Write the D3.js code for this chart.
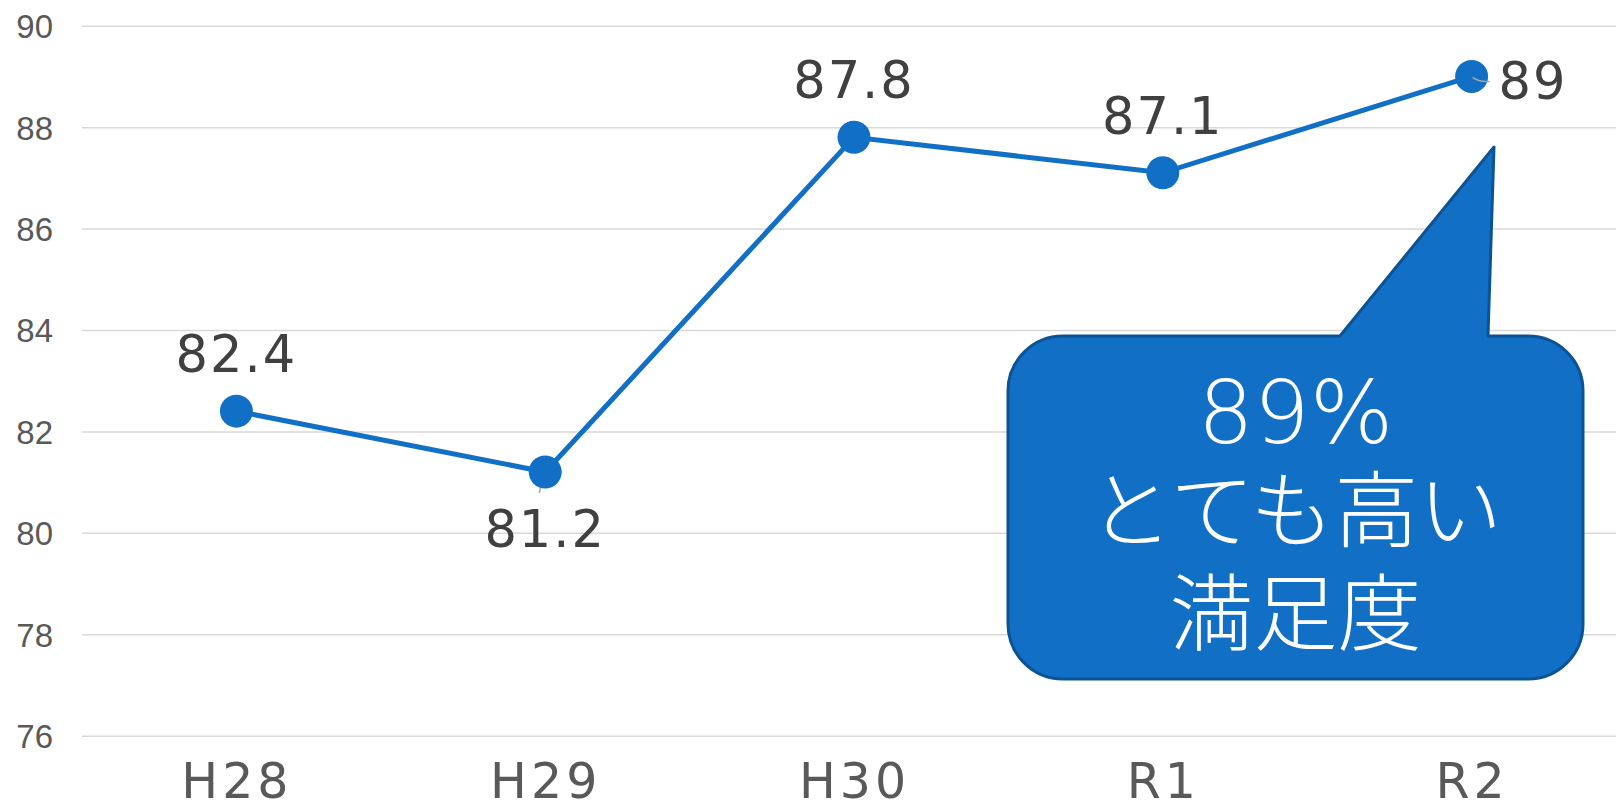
<!DOCTYPE html>
<html>
<head>
<meta charset="utf-8">
<script src="https://cdn.jsdelivr.net/npm/d3@7"></script>
<style>
  body { margin: 0; background: #fff; }
  svg { display: block; }
</style>
</head>
<body>
<script>
const categories = ["H28", "H29", "H30", "R1", "R2"]
const values = [82.4, 81.2, 87.8, 87.1, 89]
const yTicks = [76, 78, 80, 82, 84, 86, 88, 90]
// where each data label sits relative to its point
const labelPlace = ["above", "below", "above", "above", "right"]
const calloutLines = ["89%", "とても高い", "満足度"]

const w = 1616
const h = 810
const blue = "#1170c6"

const svg = d3.select("body")
              .append("svg")
              .attr("width", w)
              .attr("height", h)

const xScale = d3.scalePoint()
                 .domain(categories)
                 .range([82, 1626])
                 .padding(0.5)
const yScale = d3.scaleLinear()
                 .domain([76, 90])
                 .range([735.7, 25.7])

// y axis + gridlines
const yAxis = d3.axisLeft(yScale)
                .tickValues(yTicks)
                .tickSize(-(w - 82))
                .tickPadding(29)
const gy = svg.append("g")
              .attr("transform", "translate(82, 0)")
              .call(yAxis)
gy.select(".domain").remove()
gy.selectAll(".tick line")
  .attr("stroke", "#d9d9d9")
  .attr("stroke-width", 1.5)
gy.selectAll(".tick text")
  .attr("fill", "#595959")
  .attr("dy", "0.36em")
  .style("font-family", "'Liberation Sans', Arial, sans-serif")
  .style("font-size", "33px")

// x axis
const xAxis = d3.axisBottom(xScale).tickSize(0)
const gx = svg.append("g")
              .attr("transform", "translate(0, " + yScale(76) + ")")
              .call(xAxis)
gx.select(".domain").remove()
gx.selectAll(".tick text")
  .attr("fill", "#595959")
  .attr("dy", null)
  .attr("y", 62)
  .style("font-family", "'DejaVu Sans', sans-serif")
  .style("font-size", "49px")
  .style("letter-spacing", "4px")

const data = categories.map((c, i) => ({ cat: c, v: values[i], place: labelPlace[i] }))

// line
const line = d3.line()
               .x((d) => xScale(d.cat))
               .y((d) => yScale(d.v))
svg.append("path")
   .datum(data)
   .attr("d", line)
   .attr("fill", "none")
   .attr("stroke", blue)
   .attr("stroke-width", 5)

// leader lines (small grey ticks like the excel ones)
svg.append("line")
   .attr("x1", xScale("H29") - 1).attr("y1", yScale(81.2) + 1)
   .attr("x2", xScale("H29") - 6).attr("y2", yScale(81.2) + 21)
   .attr("stroke", "#a6a6a6").attr("stroke-width", 1.5)

svg.selectAll("circle")
   .data(data)
   .enter()
   .append("circle")
   .attr("cx", (d) => xScale(d.cat))
   .attr("cy", (d) => yScale(d.v))
   .attr("r", 16.5)
   .attr("fill", blue)

svg.append("path")
   .attr("d", () => {
      const x = xScale("R2"), y = yScale(89)
      return "M" + (x + 1) + "," + (y + 1) + " Q" + (x + 8) + "," + (y + 6) + " " + (x + 18) + "," + (y + 5)
   })
   .attr("fill", "none")
   .attr("stroke", "#a6a6a6")
   .attr("stroke-width", 1.5)

// data labels
svg.selectAll(".dlabel")
   .data(data)
   .enter()
   .append("text")
   .attr("class", "dlabel")
   .attr("x", (d) => d.place === "right" ? xScale(d.cat) + 27 : xScale(d.cat))
   .attr("y", (d) => {
      if (d.place === "above") return yScale(d.v) - 39
      if (d.place === "below") return yScale(d.v) + 75
      return yScale(d.v) + 23
   })
   .attr("text-anchor", (d) => d.place === "right" ? "start" : "middle")
   .attr("fill", "#404040")
   .style("font-family", "'DejaVu Sans', sans-serif")
   .style("font-size", "51px")
   .style("letter-spacing", "2px")
   .text((d) => d.v)

// callout bubble
const bx0 = 1008, bx1 = 1583, by0 = 336, by1 = 679, r = 55
const tip = [1494, 147]
const base0 = 1340, base1 = 1488
const p = d3.path()
p.moveTo(bx0 + r, by0)
p.lineTo(base0, by0)
p.lineTo(tip[0], tip[1])
p.lineTo(base1, by0)
p.lineTo(bx1 - r, by0)
p.arcTo(bx1, by0, bx1, by0 + r, r)
p.lineTo(bx1, by1 - r)
p.arcTo(bx1, by1, bx1 - r, by1, r)
p.lineTo(bx0 + r, by1)
p.arcTo(bx0, by1, bx0, by1 - r, r)
p.lineTo(bx0, by0 + r)
p.arcTo(bx0, by0, bx0 + r, by0, r)
p.closePath()

svg.append("path")
   .attr("d", p.toString())
   .attr("fill", blue)
   .attr("stroke", "#0b5394")
   .attr("stroke-width", 3)
   .attr("stroke-linejoin", "round")

const lineBase = [443, 541, 644]
svg.selectAll(".callout")
   .data(calloutLines)
   .enter()
   .append("text")
   .attr("class", "callout")
   .attr("x", (bx0 + bx1) / 2)
   .attr("y", (d, i) => lineBase[i])
   .attr("text-anchor", "middle")
   .attr("fill", "#ffffff")
   .style("font-family", "'DejaVu Sans', 'Noto Sans CJK JP', sans-serif")
   .style("font-weight", 300)
   .style("font-size", (d, i) => i === 0 ? "88px" : "84px")
   .text((d) => d)
</script>
</body>
</html>
